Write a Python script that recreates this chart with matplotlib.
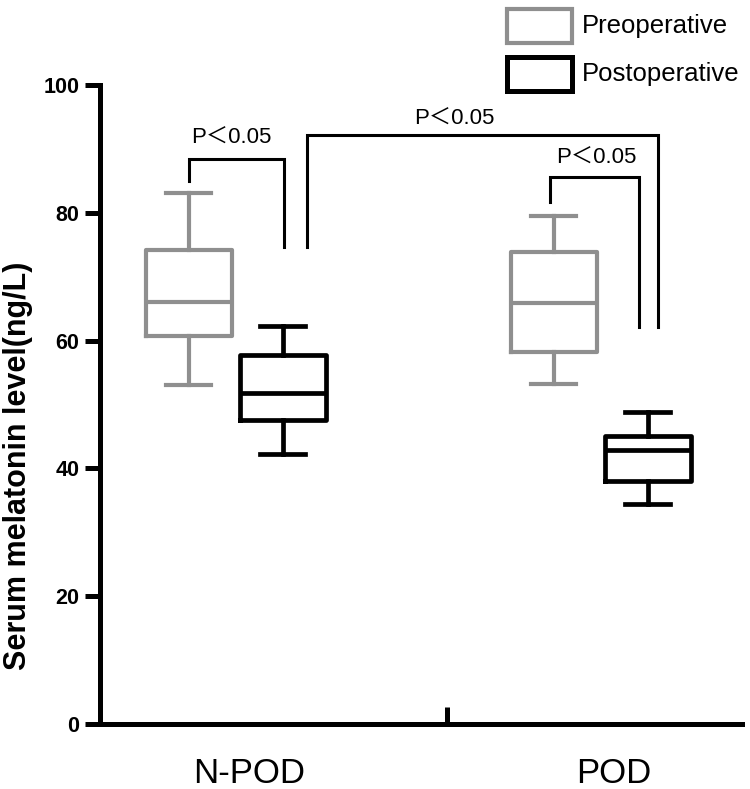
import matplotlib
matplotlib.use("Agg")
from matplotlib import pyplot as plt
from matplotlib.patches import Rectangle

plt.rcParams['font.family'] = ['Liberation Sans', 'Noto Sans CJK SC', 'DejaVu Sans']

groups = ["N-POD", "POD"]
series = ["Preoperative", "Postoperative"]
# whislo, q1, median, q3, whishi
pre_stats = [(53.1, 60.7, 66.0, 74.2, 83.1),
             (53.2, 58.2, 65.9, 73.9, 79.5)]
post_stats = [(42.3, 47.6, 51.8, 57.7, 62.2),
              (34.4, 38.0, 42.9, 45.1, 48.8)]
# significance brackets: (x_left, x_right, y_left_end, y_right_end, y_top)
brackets = [(-0.165, 0.095, 85.0, 74.6, 88.4),
            (0.158, 1.121, 74.6, 62.1, 92.2),
            (0.825, 1.068, 81.7, 62.1, 85.6)]
# label centres for each bracket
p_pos = [(-0.047, 91.6), (0.562, 94.6), (0.953, 88.6)]
p_label = "P＜0.05"

gray = "#8f8f8f"
offsets = [-0.165, 0.093]
box_w = 0.236


def to_stats(v):
    lo, q1, med, q3, hi = v
    return dict(whislo=lo, q1=q1, med=med, q3=q3, whishi=hi, fliers=[])


fig = plt.figure(figsize=(7.5, 7.89), dpi=100)
ax = fig.add_axes([0.1333, 0.0824, 0.856, 0.81])

for data, off, col, lw in [(pre_stats, offsets[0], gray, 3.0),
                           (post_stats, offsets[1], "black", 3.4)]:
    pos = [i + off for i in range(len(groups))]
    ax.bxp([to_stats(v) for v in data], positions=pos, widths=box_w,
           showfliers=False, capwidths=0.123,
           boxprops=dict(color=col, linewidth=lw),
           whiskerprops=dict(color=col, linewidth=lw),
           capprops=dict(color=col, linewidth=lw),
           medianprops=dict(color=col, linewidth=lw))

for (x0, x1, y0, y1, yt), (tx, ty) in zip(brackets, p_pos):
    ax.plot([x0, x0, x1, x1], [y0, yt, yt, y1], color="black", lw=2.2,
            solid_joinstyle="miter", clip_on=False)
    ax.text(tx, ty, p_label, ha="center", va="center", fontsize=16)

ax.set_xlim(-0.408, 1.351)
ax.set_ylim(0, 100)
ax.set_yticks([0, 20, 40, 60, 80, 100])
ax.set_yticklabels(["0", "20", "40", "60", "80", "100"], fontsize=15.5,
                   fontweight="bold")
ax.set_xticks([0.542])
ax.set_xticklabels([""])
ax.set_xticks([0, 1], minor=True)
ax.set_xticklabels(groups, minor=True, fontsize=25)
ax.tick_params(axis="x", which="minor", length=0, pad=24)
ax.tick_params(axis="x", which="major", direction="in", length=12, width=3.6)
ax.tick_params(axis="y", length=11, width=3.6, pad=4)
for s in ["top", "right"]:
    ax.spines[s].set_visible(False)
for s in ["left", "bottom"]:
    ax.spines[s].set_linewidth(3.6)

ax.set_ylabel("Serum melatonin level(ng/L)", fontsize=22, fontweight="bold")
ax.yaxis.set_label_coords(-0.104, 0.404)

# legend drawn by hand in figure pixels
for i, (name, col, lw) in enumerate([(series[0], gray, 3.0),
                                     (series[1], "black", 3.6)]):
    y = 789 - 43 - i * 48
    fig.patches.append(Rectangle((507 / 750, y / 789), 65 / 750, 34 / 789,
                                 transform=fig.transFigure, fill=False,
                                 edgecolor=col, linewidth=lw))
    fig.text(582 / 750, (y + 17) / 789, name, fontsize=18.5, va="center")

fig.savefig("out.png", dpi=100)
